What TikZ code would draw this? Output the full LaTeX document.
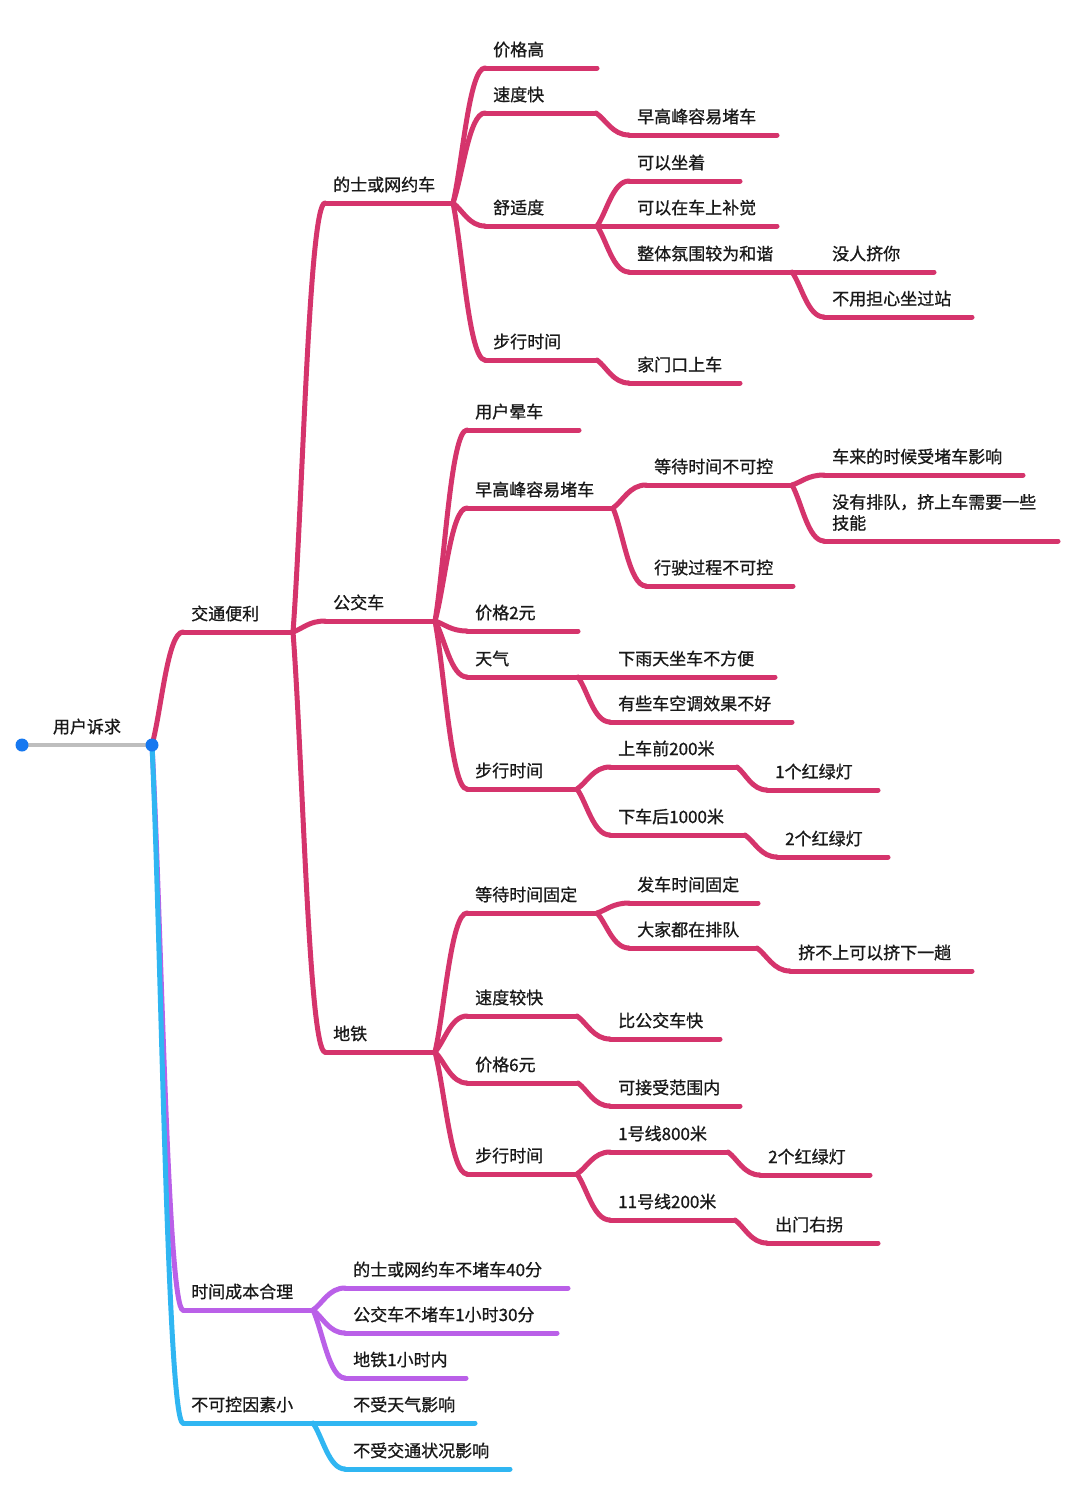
\documentclass[tikz,border=0pt]{standalone}
\usepackage{fontspec}
\setmainfont{Noto Sans CJK SC}[FakeBold=0.9]
\usetikzlibrary{calc}

\definecolor{rosebranch}{RGB}{213,52,108}
\definecolor{lilacbranch}{RGB}{186,96,232}
\definecolor{skybranch}{RGB}{48,182,242}
\definecolor{rootgray}{RGB}{190,190,190}
\definecolor{rootdot}{RGB}{22,120,240}

\tikzset{
  branch/.style={line width=5pt, line cap=round},
  topic text/.style={inner sep=0pt, font=\fontsize{17}{21}\selectfont, text=black!90},
}

% underline + text of one topic: [colour]{name}{x start}{x end}{y}{text}
\newcommand{\mmtopic}[6][rosebranch]{%
  \coordinate (#2-s) at (#3,#5);
  \coordinate (#2-e) at (#4,#5);
  \draw[branch, #1] (#2-s) -- (#2-e);
  \node[topic text, anchor=base west] (#2) at ([xshift=8pt, yshift=12pt]#2-s) {#6};
}
% curved connector from the end of a parent to the start of a child
\newcommand{\mmlink}[3][rosebranch]{%
  \draw[branch, #1] let \p1=(#2-e), \p2=(#3-s) in
    (\p1) .. controls ($(\p1)!0.3!(\p2)$) and ({0.5*\x1+0.5*\x2},\y2) .. (\p2);
}

\begin{document}
\begin{tikzpicture}[x=1pt, y=-1pt]
  \useasboundingbox[fill=white] (0,0) rectangle (1080,1492);

  % root
  \coordinate (root-s) at (22,745);
  \coordinate (root-e) at (152,745);
  \node[topic text, anchor=base] (root) at ([yshift=12pt]$(root-s)!0.5!(root-e)$) {用户诉求};

  % first level
  \mmtopic{jtbl}{183}{293}{632}{交通便利}
  \mmtopic[lilacbranch]{sjcb}{183}{313}{1310}{时间成本合理}
  \mmtopic[skybranch]{bkk}{183}{313}{1423}{不可控因素小}

  % 交通便利
  \mmtopic{taxi}{325}{453}{203}{的士或网约车}
  \mmtopic{bus}{325}{435}{621}{公交车}
  \mmtopic{metro}{325}{435}{1052}{地铁}

  % 的士或网约车
  \mmtopic{tjg}{485}{597}{68}{价格高}
  \mmtopic{tsd}{485}{596}{113}{速度快}
  \mmtopic{tssd}{485}{597}{226}{舒适度}
  \mmtopic{tbx}{485}{597}{360}{步行时间}
  \mmtopic{tgf}{629}{777}{135}{早高峰容易堵车}
  \mmtopic{tzz}{629}{740}{181}{可以坐着}
  \mmtopic{tbj}{629}{777}{226}{可以在车上补觉}
  \mmtopic{thx}{629}{792}{272}{整体氛围较为和谐}
  \mmtopic{tmr}{824}{934}{272}{没人挤你}
  \mmtopic{tgz}{824}{972}{317}{不用担心坐过站}
  \mmtopic{tmk}{629}{740}{383}{家门口上车}

  % 公交车
  \mmtopic{byc}{467}{579}{430}{用户晕车}
  \mmtopic{bgf}{467}{613}{508}{早高峰容易堵车}
  \mmtopic{bjg}{467}{578}{631}{价格2元}
  \mmtopic{btq}{467}{578}{677}{天气}
  \mmtopic{bbx}{467}{577}{789}{步行时间}
  \mmtopic{bdd}{646}{792}{485}{等待时间不可控}
  \mmtopic{bxs}{646}{793}{586}{行驶过程不可控}
  \mmtopic{bcl}{824}{1023}{475}{车来的时候受堵车影响}
  \coordinate (bpd-s) at (824,541);
  \coordinate (bpd-e) at (1058,541);
  \draw[branch, rosebranch] (bpd-s) -- (bpd-e);
  \node[topic text, align=left, anchor=south west] (bpd) at ([xshift=8pt, yshift=10pt]bpd-s)
    {没有排队，挤上车需要一些\\技能};
  \mmtopic{bxy}{610}{775}{677}{下雨天坐车不方便}
  \mmtopic{bkt}{610}{792}{722}{有些车空调效果不好}
  \mmtopic{bsc}{610}{737}{767}{上车前200米}
  \mmtopic{bxc}{610}{745}{835}{下车后1000米}
  \mmtopic{bhl1}{767}{878}{790}{1个红绿灯}
  \mmtopic{bhl2}{777}{888}{857}{2个红绿灯}

  % 地铁
  \mmtopic{mdd}{467}{597}{913}{等待时间固定}
  \mmtopic{msd}{467}{577}{1016}{速度较快}
  \mmtopic{mjg}{467}{578}{1083}{价格6元}
  \mmtopic{mbx}{467}{577}{1174}{步行时间}
  \mmtopic{mfc}{629}{758}{903}{发车时间固定}
  \mmtopic{mpd}{629}{757}{948}{大家都在排队}
  \mmtopic{mjb}{790}{972}{971}{挤不上可以挤下一趟}
  \mmtopic{mbg}{610}{720}{1039}{比公交车快}
  \mmtopic{mjs}{610}{740}{1106}{可接受范围内}
  \mmtopic{mone}{610}{728}{1152}{1号线800米}
  \mmtopic{meleven}{610}{735}{1220}{11号线200米}
  \mmtopic{mhl}{760}{870}{1175}{2个红绿灯}
  \mmtopic{mcm}{767}{878}{1243}{出门右拐}

  % 时间成本合理
  \mmtopic[lilacbranch]{sd}{345}{568}{1288}{的士或网约车不堵车40分}
  \mmtopic[lilacbranch]{sg}{345}{557}{1333}{公交车不堵车1小时30分}
  \mmtopic[lilacbranch]{sm}{345}{466}{1378}{地铁1小时内}

  % 不可控因素小
  \mmtopic[skybranch]{bt}{345}{475}{1423}{不受天气影响}
  \mmtopic[skybranch]{bj}{345}{510}{1469}{不受交通状况影响}

  % connectors
  \mmlink{root}{jtbl}
  \mmlink{jtbl}{taxi}
  \mmlink{jtbl}{bus}
  \mmlink{jtbl}{metro}
  \foreach \c in {tjg,tsd,tssd,tbx} {\mmlink{taxi}{\c}}
  \mmlink{tsd}{tgf}
  \foreach \c in {tzz,tbj,thx} {\mmlink{tssd}{\c}}
  \mmlink{thx}{tmr}
  \mmlink{thx}{tgz}
  \mmlink{tbx}{tmk}
  \foreach \c in {byc,bgf,bjg,btq,bbx} {\mmlink{bus}{\c}}
  \mmlink{bgf}{bdd}
  \mmlink{bgf}{bxs}
  \mmlink{bdd}{bcl}
  \mmlink{bdd}{bpd}
  \mmlink{btq}{bxy}
  \mmlink{btq}{bkt}
  \mmlink{bbx}{bsc}
  \mmlink{bbx}{bxc}
  \mmlink{bsc}{bhl1}
  \mmlink{bxc}{bhl2}
  \foreach \c in {mdd,msd,mjg,mbx} {\mmlink{metro}{\c}}
  \mmlink{mdd}{mfc}
  \mmlink{mdd}{mpd}
  \mmlink{mpd}{mjb}
  \mmlink{msd}{mbg}
  \mmlink{mjg}{mjs}
  \mmlink{mbx}{mone}
  \mmlink{mbx}{meleven}
  \mmlink{mone}{mhl}
  \mmlink{meleven}{mcm}
  \mmlink[lilacbranch]{root}{sjcb}
  \foreach \c in {sd,sg,sm} {\mmlink[lilacbranch]{sjcb}{\c}}
  \mmlink[skybranch]{root}{bkk}
  \mmlink[skybranch]{bkk}{bt}
  \mmlink[skybranch]{bkk}{bj}

  % root line and dots
  \draw[line width=4.5pt, rootgray] (root-s) -- (root-e);
  \fill[rootdot] (root-s) circle (6.5pt);
  \fill[rootdot] (root-e) circle (6.5pt);
\end{tikzpicture}
\end{document}
